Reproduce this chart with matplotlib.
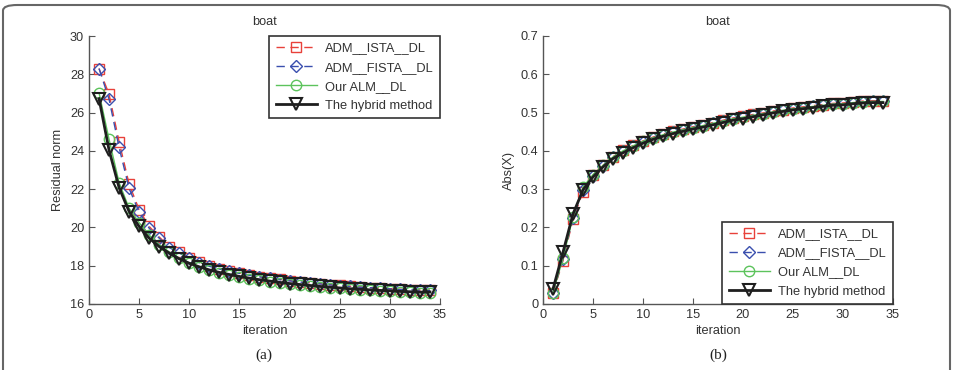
import matplotlib
matplotlib.use("Agg")
import matplotlib.pyplot as plt
from matplotlib.patches import FancyBboxPatch

iters = list(range(1, 35))

# Residual norm (panel a)
res_ista = [28.30, 26.96, 24.48, 22.27, 20.92, 20.05, 19.50, 19.00, 18.70, 18.42,
            18.18, 18.00, 17.85, 17.72, 17.62, 17.52, 17.43, 17.36, 17.29, 17.22,
            17.16, 17.11, 17.06, 17.01, 16.97, 16.93, 16.89, 16.86, 16.83, 16.80,
            16.77, 16.75, 16.73, 16.72]
res_fista = [28.30, 26.70, 24.18, 22.04, 20.79, 19.96, 19.44, 18.95, 18.66, 18.38,
             18.15, 17.97, 17.83, 17.70, 17.60, 17.50, 17.42, 17.34, 17.27, 17.21,
             17.15, 17.10, 17.05, 17.00, 16.96, 16.92, 16.88, 16.85, 16.82, 16.79,
             16.76, 16.74, 16.72, 16.71]
res_alm = [27.03, 24.60, 22.34, 21.00, 20.25, 19.60, 19.10, 18.72, 18.40, 18.14,
           17.93, 17.77, 17.63, 17.51, 17.41, 17.32, 17.24, 17.17, 17.10, 17.04,
           16.99, 16.94, 16.89, 16.85, 16.81, 16.77, 16.74, 16.71, 16.68, 16.66,
           16.63, 16.61, 16.59, 16.58]
res_hybrid = [26.73, 24.04, 22.08, 20.83, 20.05, 19.44, 19.00, 18.66, 18.36, 18.13,
              17.94, 17.78, 17.65, 17.54, 17.44, 17.35, 17.27, 17.20, 17.13, 17.07,
              17.02, 16.97, 16.92, 16.88, 16.84, 16.80, 16.77, 16.74, 16.71, 16.69,
              16.66, 16.64, 16.62, 16.63]

# Abs(X) (panel b)
abs_ista = [0.029, 0.113, 0.221, 0.293, 0.336, 0.362, 0.385, 0.401, 0.414, 0.426,
            0.436, 0.444, 0.451, 0.457, 0.463, 0.468, 0.474, 0.480, 0.486, 0.490,
            0.495, 0.499, 0.504, 0.508, 0.512, 0.515, 0.518, 0.521, 0.524, 0.525,
            0.528, 0.530, 0.531, 0.531]
abs_fista = [0.030, 0.118, 0.225, 0.298, 0.335, 0.361, 0.383, 0.399, 0.412, 0.424,
             0.434, 0.442, 0.449, 0.455, 0.461, 0.466, 0.472, 0.478, 0.484, 0.488,
             0.493, 0.497, 0.502, 0.506, 0.510, 0.513, 0.516, 0.519, 0.522, 0.523,
             0.526, 0.528, 0.529, 0.529]
abs_alm = [0.030, 0.120, 0.228, 0.305, 0.338, 0.362, 0.384, 0.400, 0.413, 0.425,
           0.434, 0.442, 0.449, 0.455, 0.461, 0.466, 0.472, 0.478, 0.484, 0.488,
           0.493, 0.497, 0.502, 0.506, 0.510, 0.513, 0.516, 0.519, 0.522, 0.523,
           0.526, 0.528, 0.529, 0.529]
abs_hybrid = [0.039, 0.135, 0.235, 0.298, 0.332, 0.358, 0.380, 0.395, 0.408, 0.420,
              0.430, 0.438, 0.445, 0.451, 0.457, 0.462, 0.468, 0.474, 0.480, 0.484,
              0.489, 0.494, 0.499, 0.503, 0.507, 0.510, 0.513, 0.516, 0.519, 0.520,
              0.523, 0.525, 0.526, 0.526]

labels = ["ADM__ISTA__DL", "ADM__FISTA__DL", "Our ALM__DL", "The hybrid method"]
colors = ["#e8413a", "#3a4fae", "#5cc35c", "#1e1e1e"]

plt.rcParams['font.family'] = ['Liberation Sans', 'DejaVu Sans']
TXT = "#333333"
FS = 9.2

fig = plt.figure(figsize=(9.57, 3.70), dpi=100)
W, H = 957, 370

def add_ax(x0, x1, y0, y1):
    return fig.add_axes([x0 / W, 1 - y1 / H, (x1 - x0) / W, (y1 - y0) / H])

ax1 = add_ax(89, 440, 36, 304)
ax2 = add_ax(543, 893, 36, 304)

def draw(ax, series):
    styles = [
        dict(ls=(0, (6, 4)), marker='s', ms=7.5, lw=1.0),
        dict(ls=(0, (6, 4)), marker='D', ms=6.0, lw=1.0),
        dict(ls='-', marker='o', ms=7.5, lw=1.0),
        dict(ls='-', marker='v', ms=8.5, lw=2.0),
    ]
    for data, c, st, lab in zip(series, colors, styles, labels):
        ax.plot(iters, data, color=c, linestyle=st['ls'], linewidth=st['lw'],
                marker=st['marker'], markersize=st['ms'], markerfacecolor='none',
                markeredgecolor=c, markeredgewidth=1.0 if c != colors[3] else 1.5,
                label=lab)
    for s in ['top', 'right']:
        ax.spines[s].set_visible(False)
    for s in ['left', 'bottom']:
        ax.spines[s].set_color('#555555')
        ax.spines[s].set_linewidth(1.0)
    ax.tick_params(direction='in', length=4, width=0.8, colors='#555555',
                   labelcolor=TXT, labelsize=FS)
    ax.set_xlim(0, 35)
    ax.set_xticks(range(0, 36, 5))
    ax.set_xlabel("iteration", fontsize=FS, color=TXT, labelpad=3)
    ax.set_title("boat", fontsize=FS, color=TXT, pad=8)

draw(ax1, [res_ista, res_fista, res_alm, res_hybrid])
ax1.set_ylim(16, 30)
ax1.set_yticks(range(16, 31, 2))
ax1.set_ylabel("Residual norm", fontsize=FS, color=TXT, labelpad=4)
leg1 = ax1.legend(loc='upper right', bbox_to_anchor=(1.0, 1.0), borderaxespad=0,
                  fontsize=9.3, frameon=True, fancybox=False, handlelength=3.2,
                  labelspacing=0.55, borderpad=0.5, handletextpad=0.6)

draw(ax2, [abs_ista, abs_fista, abs_alm, abs_hybrid])
ax2.set_ylim(0, 0.7)
ax2.set_yticks([0, 0.1, 0.2, 0.3, 0.4, 0.5, 0.6, 0.7])
ax2.set_yticklabels(["0", "0.1", "0.2", "0.3", "0.4", "0.5", "0.6", "0.7"])
ax2.set_ylabel("Abs(X)", fontsize=FS, color=TXT, labelpad=4)
leg2 = ax2.legend(loc='lower right', bbox_to_anchor=(1.0, 0.0), borderaxespad=0,
                  fontsize=9.3, frameon=True, fancybox=False, handlelength=3.2,
                  labelspacing=0.55, borderpad=0.5, handletextpad=0.6)

for leg in (leg1, leg2):
    fr = leg.get_frame()
    fr.set_edgecolor('#333333')
    fr.set_linewidth(1.2)
    fr.set_alpha(1)
    for t in leg.get_texts():
        t.set_color(TXT)

fig.text(264 / W, 1 - 355 / H, "(a)", ha='center', va='center',
         fontsize=11, family=['Liberation Serif', 'DejaVu Serif'], color='#222222')
fig.text(718 / W, 1 - 355 / H, "(b)", ha='center', va='center',
         fontsize=11, family=['Liberation Serif', 'DejaVu Serif'], color='#222222')

border = FancyBboxPatch((3 / W, -20 / H), (W - 10) / W, (H + 15) / H,
                        boxstyle="round,pad=0,rounding_size=0.015",
                        transform=fig.transFigure, fill=False,
                        edgecolor='#666666', linewidth=1.5)
fig.patches.append(border)

fig.savefig("out.png", dpi=100)
